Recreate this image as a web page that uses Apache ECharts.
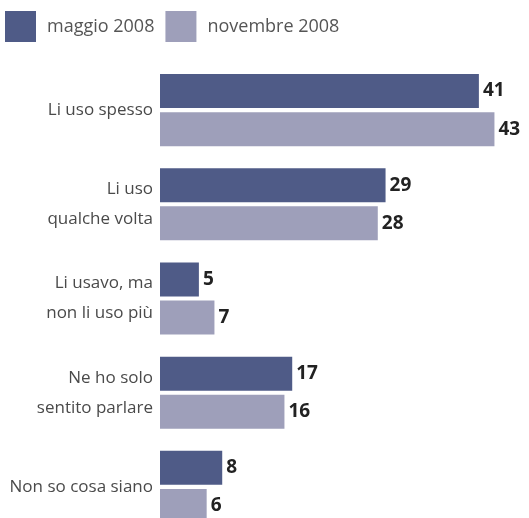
<!DOCTYPE html>
<html>
<head>
<meta charset="utf-8">
<script src="https://cdn.jsdelivr.net/npm/echarts@6/dist/echarts.min.js"></script>
<style>
  html, body { margin: 0; padding: 0; background: #fff; }
  #chart { width: 529px; height: 518px; }
</style>
</head>
<body>
<div id="chart"></div>
<script>
var categories = [
    'Li uso spesso',
    'Li uso\nqualche volta',
    'Li usavo, ma\nnon li uso più',
    'Ne ho solo\nsentito parlare',
    'Non so cosa siano'
];
var seriesNames = ['maggio 2008', 'novembre 2008'];
var maggio = [41, 29, 5, 17, 8];
var novembre = [43, 28, 7, 16, 6];

var colors = ['#4f5b87', '#9e9fba'];

var valueLabel = {
    show: true,
    position: 'right',
    distance: 4,
    color: '#222',
    fontSize: 19,
    fontWeight: 'bold',
    fontFamily: 'Open Sans'
};

var myChart = echarts.init(document.getElementById('chart'));
myChart.setOption({
    animation: false,
    color: colors,
    legend: {
        left: 5,
        top: 11,
        padding: 0,
        itemWidth: 31,
        itemHeight: 31,
        itemGap: 11,
        icon: 'rect',
        data: seriesNames,
        textStyle: {
            color: '#555',
            fontSize: 18,
            fontFamily: 'Open Sans',
            padding: [0, 0, 0, 6]
        }
    },
    grid: {
        left: 160,
        top: 63,
        width: 350,
        height: 471,
        outerBoundsMode: 'none'
    },
    xAxis: {
        type: 'value',
        min: 0,
        max: 45,
        show: false
    },
    yAxis: {
        type: 'category',
        inverse: true,
        data: categories,
        axisLine: {show: false},
        axisTick: {show: false},
        splitLine: {show: false},
        axisLabel: {
            margin: 7,
            color: '#4a4a4a',
            fontSize: 17,
            fontFamily: 'Open Sans',
            lineHeight: 30,
            align: 'right'
        }
    },
    series: [
        {
            name: seriesNames[0],
            type: 'bar',
            data: maggio,
            barWidth: 34,
            barGap: '12%',
            label: valueLabel
        },
        {
            name: seriesNames[1],
            type: 'bar',
            data: novembre,
            barWidth: 34,
            barGap: '12%',
            label: valueLabel
        }
    ]
});
</script>
</body>
</html>
